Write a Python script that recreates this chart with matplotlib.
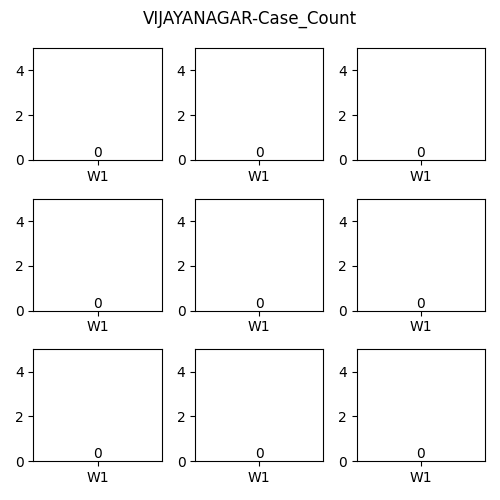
import numpy as np
import matplotlib
matplotlib.use('Agg')
import matplotlib.pyplot as plt

# data: one week, zero cases in every panel
district = 'VIJAYANAGAR'
weeks = ['W1']
panel_counts = [[0], [0], [0], [0], [0], [0], [0], [0], [0]]

fig, axes = plt.subplots(3, 3, figsize=(5, 5), dpi=100)
fig.suptitle(f'{district}-Case_Count')

for ax, counts in zip(axes.flat, panel_counts):
    bars = ax.bar(weeks, counts)
    ax.bar_label(bars)
    ax.set_ylim(0, 5)
    ax.set_yticks([0, 2, 4])

plt.tight_layout()
plt.savefig('out.png')
